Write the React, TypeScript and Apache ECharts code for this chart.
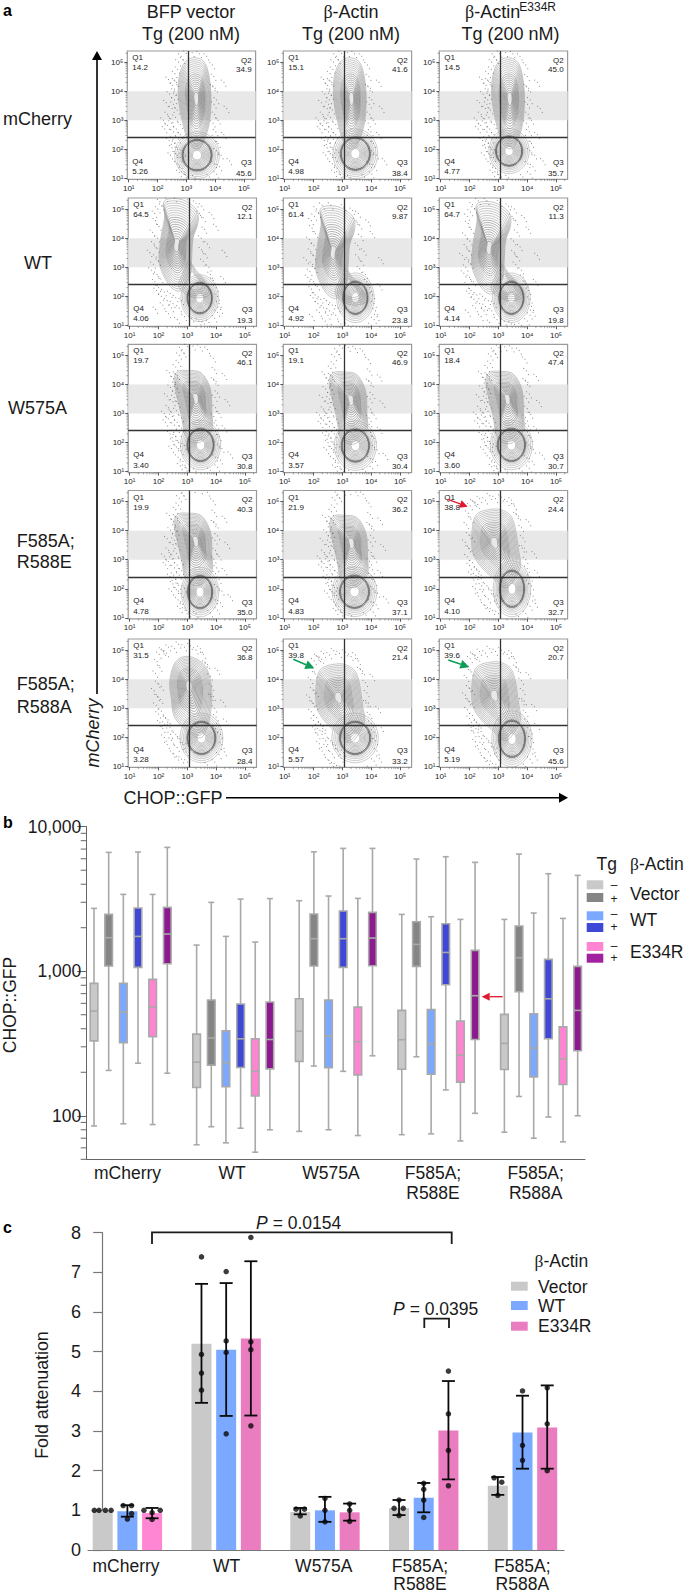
import React, { useEffect, useRef } from "react";
import * as echarts from "echarts";

const W = 684;
const H = 1593;
const FONT = '"Liberation Sans", Arial, sans-serif';
const SERIF = '"Liberation Serif", serif';

// ---------- panel a ----------
const COL_TITLES = ["BFP vector", "β-Actin", "β-Actin"];
const Q1 = [14.2, 15.1, 14.5, 64.5, 61.4, 64.7, 19.7, 19.1, 18.4, 19.9, 21.9, 38.8, 31.5, 39.8, 39.6];
const Q2 = ["34.9", "41.6", "45.0", "12.1", "9.87", "11.3", "46.1", "46.9", "47.4", "40.3", "36.2", "24.4", "36.8", "21.4", "20.7"];
const Q3 = ["45.6", "38.4", "35.7", "19.3", "23.8", "19.8", "30.8", "30.4", "30.7", "35.0", "37.1", "32.7", "28.4", "33.2", "45.6"];
const Q4 = ["5.26", "4.98", "4.77", "4.06", "4.92", "4.14", "3.40", "3.57", "3.60", "4.78", "4.83", "4.10", "3.28", "5.57", "5.19"];
const N_CELLS = ["4,453", "2,899", "2,988", "3,515", "4,272", "3,182", "5,529", "3,746", "2,842", "5,778", "3,439", "3,433", "2,619", "3,681", "3,644"];
const DECADES = [1, 2, 3, 4, 5];
const SUP: Record<number, string> = { 1: "¹", 2: "²", 3: "³", 4: "⁴", 5: "⁵" };
const LOG_FRACS = [0.301, 0.477, 0.602, 0.699, 0.778, 0.845, 0.903, 0.954];
const X_GATE = 3.07;
const Y_GATE = 2.41;
const BAND = [3, 4];

// Contour outlines, in decades of fluorescence
const UPPER: Record<string, { pts: number[][]; peak: number[] }> = {
  A: { peak: [3.35, 3.75], pts: [[3.3, 5.15], [3.65, 4.95], [3.82, 4.3], [3.85, 3.5], [3.75, 2.7], [3.45, 2.05], [3.1, 2.2], [2.85, 3.0], [2.72, 3.8], [2.75, 4.5], [2.95, 5.0]] },
  B: { peak: [2.62, 3.75], pts: [[2.21, 5.28], [2.79, 5.33], [3.31, 4.99], [3.37, 4.53], [3.2, 4.0], [3.15, 3.3], [3.1, 2.7], [2.8, 2.2], [2.4, 2.35], [2.04, 3.09], [2.07, 3.9], [2.21, 4.7]] },
  W: { peak: [3.3, 3.55], pts: [[3.03, 4.48], [3.49, 4.39], [3.8, 3.85], [3.85, 3.1], [3.84, 2.44], [3.4, 2.0], [2.95, 2.2], [2.8, 2.9], [2.66, 3.5], [2.54, 4.15], [2.68, 4.45]] },
  C: { peak: [2.85, 3.6], pts: [[2.77, 4.74], [3.24, 4.66], [3.53, 4.31], [3.7, 3.33], [3.75, 2.7], [3.3, 2.05], [2.89, 2.3], [2.31, 2.87], [2.08, 3.45], [2.19, 4.48]] },
  D: { peak: [3.05, 3.8], pts: [[3.05, 4.78], [3.6, 4.47], [3.84, 3.72], [3.78, 2.69], [3.5, 2.0], [3.03, 2.2], [2.56, 2.69], [2.45, 3.3], [2.39, 3.95], [2.6, 4.6]] },
};
const TAIL_B = { peak: [3.25, 2.5], pts: [[3.05, 3.2], [3.3, 2.9], [3.6, 2.55], [3.8, 2.1], [3.4, 1.95], [3.0, 2.05], [2.7, 2.35], [2.85, 2.8]] };
const TAIL_LEVELS = [1, 0.88, 0.76, 0.64, 0.52];
// shape, dx, dy, blob x, blob y, blob rx, blob ry
const PANEL_SHAPES: [string, number, number, number, number, number, number][] = [
  ["A", 0, 0, 3.37, 1.8, 0.5, 0.52], ["A", -0.03, 0, 3.45, 1.85, 0.5, 0.55], ["A", 0.05, 0, 3.37, 1.94, 0.45, 0.5],
  ["B", 0, 0, 3.43, 1.94, 0.42, 0.52], ["B", 0.05, -0.25, 3.45, 1.95, 0.42, 0.55], ["B", 0.05, -0.1, 3.45, 1.95, 0.42, 0.55],
  ["W", 0, 0, 3.46, 1.92, 0.45, 0.55], ["W", 0, -0.05, 3.45, 1.9, 0.47, 0.55], ["W", 0.02, -0.03, 3.45, 1.92, 0.47, 0.55],
  ["W", 0, 0.12, 3.44, 1.89, 0.42, 0.55], ["W", 0.02, 0.05, 3.42, 1.9, 0.5, 0.55], ["C", 0, 0, 3.47, 2.0, 0.42, 0.62],
  ["D", 0, 0, 3.49, 1.98, 0.48, 0.55], ["C", 0, -0.22, 3.44, 1.98, 0.52, 0.55], ["C", 0, -0.15, 3.47, 1.95, 0.45, 0.62],
];
const RING_OUTER = [1, 0.95, 0.9, 0.85, 0.8, 0.75, 0.7, 0.65];
const RING_INNER = [0.6, 0.55, 0.5, 0.45, 0.4, 0.35, 0.3, 0.25, 0.2, 0.15];
const BLOB_OUTER = [1.55, 1.42, 1.3, 1.2, 1.12];
const BLOB_RIM = [1.05, 1.0, 0.96];
const BLOB_INNER = [0.88, 0.8, 0.72, 0.64, 0.56, 0.48, 0.4, 0.32];
const DOT_COPIES = [[0, 0], [0.07, -0.13], [-0.09, 0.08]];
const DOTS_A = [[2.35, 3.2], [2.42, 3.9], [2.48, 2.9], [2.5, 3.4], [2.52, 4.2], [2.55, 2.6], [2.58, 3.7], [2.6, 4.6], [2.62, 3.1], [2.4, 2.3], [2.45, 1.8], [2.6, 2.2], [2.65, 2.7], [2.68, 1.5], [2.7, 2.0], [2.72, 5.0], [2.75, 1.2], [2.8, 2.5], [2.82, 5.2], [2.85, 1.35], [2.3, 3.6], [2.25, 2.7], [2.38, 4.4], [2.2, 3.0], [2.55, 3.55], [2.46, 3.05], [2.53, 2.35], [2.62, 1.85], [2.58, 4.0], [2.66, 4.3], [3.0, 5.3], [3.2, 5.32], [3.45, 5.28], [3.7, 5.2], [3.9, 4.9], [3.95, 4.5], [4.0, 4.1], [4.05, 3.7], [3.98, 3.2], [4.1, 3.0], [4.02, 2.6], [4.1, 2.2], [4.2, 1.8], [4.15, 1.4], [4.05, 1.15], [3.8, 1.05], [4.3, 2.5], [4.4, 3.4], [4.3, 4.3], [4.5, 1.6], [3.3, 1.02], [3.05, 1.05], [2.9, 1.9], [2.78, 1.72], [2.72, 2.35], [2.68, 3.35], [2.64, 3.85], [2.6, 4.35], [2.7, 4.75], [2.88, 5.08], [3.92, 4.15], [3.96, 3.55], [3.92, 2.9], [3.98, 2.4], [4.04, 1.95], [3.97, 1.5], [2.92, 1.15], [2.8, 2.85], [2.5, 2.05], [2.34, 2.82]];
const DOTS_B = [[1.7, 3.5], [1.75, 2.9], [1.8, 4.2], [1.82, 3.1], [1.85, 3.8], [1.88, 2.5], [1.9, 4.6], [1.92, 3.35], [1.95, 2.75], [1.96, 4.0], [1.98, 5.0], [2.0, 2.3], [2.02, 4.4], [2.05, 5.25], [2.08, 2.6], [2.1, 2.0], [2.15, 1.7], [2.2, 2.15], [2.25, 5.38], [2.3, 1.85], [2.35, 1.4], [2.4, 2.1], [2.5, 1.75], [2.55, 5.38], [2.6, 1.95], [2.65, 1.2], [2.72, 1.6], [2.8, 1.85], [2.9, 1.3], [3.0, 5.32], [3.15, 1.25], [3.3, 5.2], [3.4, 1.15], [3.5, 5.1], [3.55, 4.7], [3.6, 4.3], [3.48, 4.0], [3.5, 3.6], [3.55, 3.2], [3.7, 3.8], [3.75, 3.0], [3.8, 2.75], [3.9, 2.55], [4.0, 2.3], [4.05, 2.0], [4.1, 1.75], [4.05, 1.45], [3.95, 1.25], [3.75, 1.1], [4.25, 2.6], [4.3, 3.5], [4.0, 4.4], [3.85, 4.8], [1.9, 1.55], [2.45, 1.6], [1.95, 3.65], [2.0, 3.2], [1.93, 2.2], [2.12, 5.1], [1.87, 4.85], [3.42, 4.85], [3.62, 3.45], [4.15, 1.55], [3.6, 1.05]];
const DOTS_C = [[1.85, 3.6], [1.9, 4.2], [1.92, 3.1], [1.95, 4.6], [1.98, 3.85], [2.0, 2.8], [2.02, 4.85], [2.05, 2.5], [2.08, 3.3], [2.1, 2.9], [2.12, 5.0], [2.15, 2.3], [2.18, 4.95], [2.2, 2.0], [2.25, 2.65], [2.3, 1.75], [2.35, 5.1], [2.4, 2.35], [2.45, 1.9], [2.5, 1.45], [2.55, 5.05], [2.6, 2.1], [2.65, 1.65], [2.7, 5.2], [2.75, 1.95], [2.8, 1.25], [2.85, 1.75], [2.9, 5.1], [2.95, 1.5], [3.0, 1.15], [3.1, 5.15], [3.3, 5.0], [3.55, 4.85], [3.7, 4.5], [3.8, 4.1], [3.85, 3.75], [3.9, 3.4], [3.95, 3.0], [4.0, 2.7], [4.1, 2.4], [4.15, 2.1], [4.2, 1.75], [4.1, 1.4], [3.95, 1.15], [3.7, 1.05], [4.35, 2.55], [4.25, 3.2], [4.05, 4.3], [2.22, 2.45], [2.33, 2.6], [2.05, 4.4], [1.96, 3.4], [2.1, 3.75], [2.28, 4.9], [2.62, 1.35], [3.05, 1.7], [3.62, 4.55], [3.82, 3.4], [3.98, 2.3], [4.28, 1.5], [3.45, 5.05], [2.42, 2.1]];
const DOTS_BY_SHAPE: Record<string, number[][]> = { A: DOTS_A, W: DOTS_A, B: DOTS_B, C: DOTS_C, D: DOTS_C };

// ---------- panel b ----------
const BOX_GROUPS = ["mCherry", "WT", "W575A", "F585A;\nR588E", "F585A;\nR588A"];
const BOX_COLORS = ["#c9c9c9", "#858585", "#7aa9ff", "#3f48d6", "#ff85d2", "#8c1a8e"];
// whisker low, q1, median, q3, whisker high
const BOX_MCHERRY = [[85, 330, 530, 824, 2722], [206, 1086, 1706, 2474, 6641], [88, 320, 521, 824, 3401], [231, 1063, 1742, 2736, 6680], [87, 352, 565, 878, 3401], [197, 1127, 1808, 2766, 7194]];
const BOX_WT = [[63, 157, 235, 367, 1517], [84, 224, 345, 632, 2994], [65, 159, 233, 387, 1742], [82, 216, 341, 593, 3157], [56, 137, 203, 341, 1592], [80, 211, 337, 612, 3180]];
const BOX_W575A = [[78, 238, 385, 645, 3076], [221, 1086, 1679, 2487, 6700], [80, 215, 356, 632, 3313], [203, 1063, 1679, 2608, 7079], [73, 192, 325, 565, 3192], [260, 1091, 1697, 2553, 7079]];
const BOX_R588E = [[74, 210, 336, 536, 2472], [256, 1080, 1534, 2201, 5974], [75, 194, 312, 544, 2383], [151, 807, 1349, 2132, 6199], [67, 171, 263, 452, 2284], [104, 337, 677, 1394, 5666]];
const BOX_R588A = [[77, 209, 317, 503, 2284], [136, 721, 1240, 2054, 6466], [70, 186, 294, 508, 2527], [98, 341, 645, 1208, 4728], [66, 165, 248, 413, 2320], [100, 282, 536, 1080, 4605]];
const BOX_VALUE_TICKS = [100, 1000, 10000];
const BOX_MINOR = [50, 60, 70, 80, 90, 200, 300, 400, 500, 600, 700, 800, 900, 2000, 3000, 4000, 5000, 6000, 7000, 8000, 9000];

// ---------- panel c ----------
const BAR_GROUPS = ["mCherry", "WT", "W575A", "F585A;\nR588E", "F585A;\nR588A"];
const BAR_VECTOR = [1.0, 5.2, 0.96, 1.06, 1.62];
const BAR_WT = [0.98, 5.05, 1.0, 1.32, 2.96];
const BAR_E334R = [0.93, 5.33, 0.95, 3.01, 3.09];
const ERR_VECTOR = [null, [3.71, 6.71], [0.9, 1.06], [0.88, 1.26], [1.39, 1.84]];
const ERR_WT = [[0.84, 1.13], [3.38, 6.73], [0.71, 1.34], [0.95, 1.69], [2.05, 3.89]];
const ERR_E334R = [[0.8, 1.06], [3.39, 7.28], [0.74, 1.17], [1.78, 4.26], [2.05, 4.15]];
// [slot offset, value]
const PTS_VECTOR = [
  [[-0.34, 1], [-0.15, 1], [0.11, 1], [0.34, 1]],
  [[0, 7.39], [0, 4.93], [0, 4.46], [0, 4.03]],
  [[-0.17, 1.03], [0.17, 1.03], [0, 0.86]],
  [[0, 1.26], [-0.2, 1.05], [0.17, 1.05], [0, 0.87]],
  [[-0.15, 1.82], [0.16, 1.71], [0, 1.38]],
];
const PTS_WT = [
  [[-0.17, 1.12], [0.17, 1.12], [0.17, 0.92], [0, 0.78]],
  [[0, 7.02], [0, 5.27], [0, 4.98], [0, 2.93]],
  [[0, 1.3], [0, 1.0], [0, 0.71]],
  [[0, 1.68], [0, 1.53], [0, 1.26], [0, 0.82]],
  [[0, 4.01], [0, 2.64], [0, 2.26]],
];
const PTS_E334R = [
  [[-0.33, 1.0], [0, 0.94], [0.33, 1.0], [0, 0.77]],
  [[0, 7.88], [0, 5.25], [0, 5.05], [0, 3.13]],
  [[0, 1.16], [0, 1.0], [0, 0.72]],
  [[0, 4.51], [0, 3.43], [0, 2.51], [0, 1.62]],
  [[0, 4.09], [0, 3.18], [0, 2.0]],
];
const BAR_COLOR_VECTOR = "#c9c9c9";
const BAR_COLOR_WT = "#7aa9ff";
const BAR_COLOR_E334R = "#ea7cc0";
const BAR_COLOR_E334R_FIRST = "#ff86d3";

// ---------- layout ----------
const COL_X = [128.2, 283.3, 439.3];
const ROW_Y = [51, 198, 344.3, 490.5, 639];
const PANEL = 128.3;
const X_MIN = 0.95;
const X_MAX = 5.4;
const Y_MIN = 0.97;
const Y_MAX = 5.38;

function closedPath(points: number[][]) {
  const n = points.length;
  const f = (v: number) => v.toFixed(2);
  let d = `M${f(points[0][0])} ${f(points[0][1])}`;
  for (let i = 0; i < n; i++) {
    const p0 = points[(i - 1 + n) % n];
    const p1 = points[i];
    const p2 = points[(i + 1) % n];
    const p3 = points[(i + 2) % n];
    d += `C${f(p1[0] + (p2[0] - p0[0]) / 6)} ${f(p1[1] + (p2[1] - p0[1]) / 6)} ${f(p2[0] - (p3[0] - p1[0]) / 6)} ${f(p2[1] - (p3[1] - p1[1]) / 6)} ${f(p2[0])} ${f(p2[1])}`;
  }
  return d + "Z";
}

const CIRCLE_ANGLES = [0, 30, 60, 90, 120, 150, 180, 210, 240, 270, 300, 330];

function panelRender(i: number) {
  const [key, dx, dy, bx, by, rx, ry] = PANEL_SHAPES[i];
  const shape = UPPER[key];
  return (_params: any, api: any) => {
    const tl = api.coord([X_MIN, BAND[1]]);
    const br = api.coord([X_MAX, BAND[0]]);
    const ringOf = (s: { pts: number[][]; peak: number[] }) => (f: number) => {
      const cx = s.peak[0] + dx;
      const cy = s.peak[1] + dy;
      return closedPath(s.pts.map((p) => api.coord([cx + (p[0] + dx - cx) * f, cy + (p[1] + dy - cy) * f])));
    };
    const ring = ringOf(shape);
    const blob = (f: number) =>
      closedPath(CIRCLE_ANGLES.map((a) => {
        const t = (a * Math.PI) / 180;
        return api.coord([bx + rx * f * Math.cos(t), by + ry * f * Math.sin(t)]);
      }));
    const outerUpper = RING_OUTER.map(ring).join("") + (key === "B" ? TAIL_LEVELS.map(ringOf(TAIL_B)).join("") : "");
    const innerUpper = RING_INNER.map(ring).join("");
    const outerD = BLOB_OUTER.map(blob).join("");
    const rimD = BLOB_RIM.map(blob).join("");
    const innerD = BLOB_INNER.map(blob).join("");
    let ticks = "";
    DECADES.forEach((dec) => {
      LOG_FRACS.forEach((fr) => {
        const v = dec + fr;
        if (v < X_MAX) {
          const a = api.coord([v, Y_MIN]);
          ticks += `M${a[0].toFixed(1)} ${a[1].toFixed(1)}L${a[0].toFixed(1)} ${(a[1] + 1.8).toFixed(1)}`;
        }
        if (v < Y_MAX) {
          const b = api.coord([X_MIN, v]);
          ticks += `M${b[0].toFixed(1)} ${b[1].toFixed(1)}L${(b[0] - 1.8).toFixed(1)} ${b[1].toFixed(1)}`;
        }
      });
    });
    const p = (d: string, stroke: string, lineWidth: number) => ({
      type: "path",
      shape: { pathData: d },
      style: { fill: "none", stroke, lineWidth },
    });
    return {
      type: "group",
      children: [
        { type: "rect", shape: { x: tl[0], y: tl[1], width: br[0] - tl[0], height: br[1] - tl[1] }, style: { fill: "#e8e8e8" } },
        p(outerUpper, "#8f8f8f", 0.5),
        p(innerUpper, "#6e6e6e", 0.55),
        p(outerD, "#9a9a9a", 0.5),
        p(rimD, "#4a4a4a", 0.7),
        p(innerD, "#808080", 0.5),
        p(ticks, "#555555", 0.5),
      ],
    };
  };
}

function txt(text: string, x: number, y: number, size: number, opts: any = {}) {
  const { align = "left", valign = "middle", fill = "#1a1a1a", rotation, ...rest } = opts;
  return {
    type: "text",
    x,
    y,
    rotation,
    silent: true,
    style: {
      text,
      fill,
      fontSize: size,
      fontFamily: FONT,
      align,
      verticalAlign: valign,
      textAlign: align,
      textVerticalAlign: valign,
      ...rest,
    },
  };
}

function arrow(x1: number, y1: number, x2: number, y2: number, color: string, w: number, len: number, half: number) {
  const a = Math.atan2(y2 - y1, x2 - x1);
  const bx = x2 - len * Math.cos(a);
  const by = y2 - len * Math.sin(a);
  const nx = -Math.sin(a) * half;
  const ny = Math.cos(a) * half;
  return [
    { type: "line", silent: true, shape: { x1, y1, x2: bx, y2: by }, style: { stroke: color, lineWidth: w } },
    { type: "polygon", silent: true, shape: { points: [[x2, y2], [bx + nx, by + ny], [bx - nx, by - ny]] }, style: { fill: color } },
  ];
}

function swatch(x: number, y: number, w: number, h: number, fill: string) {
  return { type: "rect", silent: true, shape: { x, y, width: w, height: h }, style: { fill } };
}

function bracket(points: number[][]) {
  return { type: "polyline", silent: true, shape: { points }, style: { stroke: "#1a1a1a", lineWidth: 1.8, fill: "none" } };
}

function buildOption() {
  const grid: any[] = [];
  const xAxis: any[] = [];
  const yAxis: any[] = [];
  const series: any[] = [];
  const graphics: any[] = [];

  // panel a grids
  for (let i = 0; i < 15; i++) {
    const row = Math.floor(i / 3);
    const col = i % 3;
    const left = COL_X[col] - (i === 0 ? 0.9 : 0);
    const top = ROW_Y[row];
    grid.push({ left, top, width: PANEL, height: PANEL, show: true, borderColor: "#9a9a9a", borderWidth: 1.2, backgroundColor: "transparent" });
    const axisBase = {
      gridIndex: i,
      type: "value",
      splitLine: { show: false },
      axisLine: { show: false },
      axisTick: { show: true, length: 3, lineStyle: { color: "#333", width: 0.8 }, customValues: DECADES },
    };
    const lbl = (v: number) => "10" + SUP[v];
    xAxis.push({ ...axisBase, min: X_MIN, max: X_MAX, axisLabel: { show: true, customValues: DECADES, formatter: lbl, fontSize: 8, color: "#222", margin: 5, fontFamily: FONT } });
    yAxis.push({ ...axisBase, min: Y_MIN, max: Y_MAX, axisLabel: { show: true, customValues: DECADES, formatter: lbl, fontSize: 8, color: "#222", margin: 4, fontFamily: FONT } });
    series.push({
      type: "custom",
      coordinateSystem: "cartesian2d",
      xAxisIndex: i,
      yAxisIndex: i,
      silent: true,
      z: 1,
      data: [[3, 3]],
      renderItem: panelRender(i),
    });
    const [key, dx, dy] = PANEL_SHAPES[i];
    const dots: number[][] = [];
    DOT_COPIES.forEach((c) => DOTS_BY_SHAPE[key].forEach((d) => dots.push([d[0] + dx + c[0], d[1] + dy + c[1]])));
    series.push({
      type: "scatter",
      xAxisIndex: i,
      yAxisIndex: i,
      silent: true,
      z: 2,
      symbolSize: 1,
      itemStyle: { color: "#5c5c5c" },
      data: dots,
      markLine: {
        silent: true,
        symbol: "none",
        label: { show: false },
        lineStyle: { color: "#333", width: 1.3, type: "solid" },
        data: [{ xAxis: X_GATE }, { yAxis: Y_GATE }],
      },
    });

    const R = left + PANEL;
    const B = top + PANEL;
    graphics.push(txt("Q1", left + 5, top + 6.5, 8));
    graphics.push(txt(Q1[i].toFixed(1), left + 5, top + 16.5, 8));
    graphics.push(txt("Q2", R - 4, top + 9, 8, { align: "right" }));
    graphics.push(txt(Q2[i], R - 4, top + 18.5, 8, { align: "right" }));
    graphics.push(txt("Q4", left + 5, B - 18, 8));
    graphics.push(txt(Q4[i], left + 5, B - 7.5, 8));
    graphics.push(txt("Q3", R - 4, B - 16.5, 8, { align: "right" }));
    graphics.push(txt(Q3[i], R - 4, B - 6, 8, { align: "right" }));
    graphics.push(txt(`{i|n} = ${N_CELLS[i]}`, R - 2, top + 49.5, 8, {
      align: "right",
      rich: { i: { fontStyle: "italic", fontSize: 8, fontFamily: FONT, fill: "#1a1a1a" } },
    }));
  }

  // panel b
  const BI = 15;
  grid.push({ left: 86.7, top: 826.7, width: 498.3, height: 332.6 });
  const slotNames: string[] = [];
  const boxData: number[][] = [];
  [BOX_MCHERRY, BOX_WT, BOX_W575A, BOX_R588E, BOX_R588A].forEach((g, gi) => {
    g.forEach((b, bi) => {
      slotNames.push(`${BOX_GROUPS[gi]} ${bi}`);
      boxData.push([slotNames.length - 1, ...b]);
    });
    if (gi < 4) slotNames.push("");
  });
  xAxis.push({
    gridIndex: BI,
    type: "category",
    data: slotNames,
    boundaryGap: true,
    axisLine: { show: true, onZero: false, lineStyle: { color: "#666", width: 1 } },
    axisTick: { show: false },
    axisLabel: { show: false },
    splitLine: { show: false },
  });
  yAxis.push({
    gridIndex: BI,
    type: "log",
    logBase: 10,
    min: 50,
    max: 10000,
    splitLine: { show: false },
    axisLine: { show: true, lineStyle: { color: "#666", width: 1 } },
    axisTick: { show: true, length: 9.5, lineStyle: { color: "#666", width: 1 }, customValues: BOX_VALUE_TICKS },
    axisLabel: { show: true, customValues: BOX_VALUE_TICKS, margin: 5.5, fontSize: 17.5, color: "#1a1a1a", fontFamily: FONT, formatter: (v: number) => Math.round(v).toLocaleString("en-US") },
  });
  series.push({
    type: "custom",
    coordinateSystem: "cartesian2d",
    xAxisIndex: BI,
    yAxisIndex: BI,
    silent: true,
    data: BOX_MINOR.map((v) => [0, v]),
    encode: { x: 0, y: 1 },
    renderItem: (_p: any, api: any) => {
      const c = api.coord([0, api.value(1)]);
      const x0 = 86.7;
      return { type: "line", shape: { x1: x0, y1: c[1], x2: x0 - 6, y2: c[1] }, style: { stroke: "#666", lineWidth: 1 } };
    },
  });
  series.push({
    type: "custom",
    coordinateSystem: "cartesian2d",
    xAxisIndex: BI,
    yAxisIndex: BI,
    silent: true,
    data: boxData,
    encode: { x: 0, y: [1, 2, 3, 4, 5] },
    renderItem: (p: any, api: any) => {
      const s = api.value(0);
      const low = api.coord([s, api.value(1)]);
      const q1 = api.coord([s, api.value(2)]);
      const med = api.coord([s, api.value(3)]);
      const q3 = api.coord([s, api.value(4)]);
      const high = api.coord([s, api.value(5)]);
      const x = low[0];
      const line = { stroke: "#a9a9a9", lineWidth: 1.6 };
      const mk = (x1: number, y1: number, x2: number, y2: number) => ({ type: "line", shape: { x1, y1, x2, y2 }, style: line });
      return {
        type: "group",
        children: [
          mk(x, low[1], x, q1[1]),
          mk(x, q3[1], x, high[1]),
          mk(x - 3, low[1], x + 3, low[1]),
          mk(x - 3, high[1], x + 3, high[1]),
          { type: "rect", shape: { x: x - 3.8, y: q3[1], width: 7.6, height: q1[1] - q3[1] }, style: { fill: BOX_COLORS[p.dataIndex % 6], ...line } },
          mk(x - 3.8, med[1], x + 3.8, med[1]),
        ],
      };
    },
  });

  // panel c
  const CI = 16;
  const SLOT_MIN = -0.595;
  const SLOT_MAX = 18.68;
  grid.push({ left: 88, top: 1232.7, width: 476, height: 317.3 });
  xAxis.push({
    gridIndex: CI,
    type: "value",
    min: SLOT_MIN,
    max: SLOT_MAX,
    axisLine: { show: true, lineStyle: { color: "#777", width: 1.2 } },
    axisTick: { show: false },
    axisLabel: { show: false },
    splitLine: { show: false },
  });
  yAxis.push({
    gridIndex: CI,
    type: "value",
    min: 0,
    max: 8,
    interval: 1,
    axisLine: { show: true, lineStyle: { color: "#777", width: 1.2 } },
    axisTick: { show: true, length: 9.5, lineStyle: { color: "#777", width: 1.2 } },
    axisLabel: { show: true, margin: 7, fontSize: 18, color: "#1a1a1a", fontFamily: FONT },
    splitLine: { show: false },
  });
  const barData: any[] = [];
  const errData: number[][] = [];
  const ptData: number[][] = [];
  BAR_GROUPS.forEach((_g, g) => {
    const base = g * 4;
    barData.push({ value: [base, BAR_VECTOR[g]], itemStyle: { color: BAR_COLOR_VECTOR } });
    barData.push({ value: [base + 1, BAR_WT[g]], itemStyle: { color: BAR_COLOR_WT } });
    barData.push({ value: [base + 2, BAR_E334R[g]], itemStyle: { color: g === 0 ? BAR_COLOR_E334R_FIRST : BAR_COLOR_E334R } });
    [ERR_VECTOR[g], ERR_WT[g], ERR_E334R[g]].forEach((e, k) => {
      if (e) errData.push([base + k, e[0], e[1]]);
    });
    [PTS_VECTOR[g], PTS_WT[g], PTS_E334R[g]].forEach((list, k) => {
      list.forEach((pt) => ptData.push([base + k + pt[0], pt[1]]));
    });
  });
  series.push({ type: "bar", xAxisIndex: CI, yAxisIndex: CI, barWidth: 20, silent: true, data: barData });
  series.push({
    type: "custom",
    coordinateSystem: "cartesian2d",
    xAxisIndex: CI,
    yAxisIndex: CI,
    silent: true,
    z: 5,
    data: errData,
    encode: { x: 0, y: [1, 2] },
    renderItem: (_p: any, api: any) => {
      const lo = api.coord([api.value(0), api.value(1)]);
      const hi = api.coord([api.value(0), api.value(2)]);
      const st = { stroke: "#0a0a0a", lineWidth: 1.8 };
      return {
        type: "group",
        children: [
          { type: "line", shape: { x1: lo[0], y1: lo[1], x2: hi[0], y2: hi[1] }, style: st },
          { type: "line", shape: { x1: lo[0] - 6.5, y1: lo[1], x2: lo[0] + 6.5, y2: lo[1] }, style: st },
          { type: "line", shape: { x1: hi[0] - 6.5, y1: hi[1], x2: hi[0] + 6.5, y2: hi[1] }, style: st },
        ],
      };
    },
  });
  series.push({ type: "scatter", xAxisIndex: CI, yAxisIndex: CI, silent: true, z: 6, symbolSize: 5.5, itemStyle: { color: "#0a0a0a" }, data: ptData });

  // titles
  const TITLE = 18;
  const serifRich = (size: number) => ({
    b: { fontFamily: SERIF, fontSize: size, fill: "#1a1a1a" },
    a: { fontFamily: FONT, fontSize: size, fill: "#1a1a1a" },
  });
  graphics.push(txt(COL_TITLES[0], 191, 12, TITLE, { align: "center" }));
  graphics.push(txt("Tg (200 nM)", 191, 34, TITLE, { align: "center" }));
  graphics.push(txt("{b|β}{a|-Actin}", 351, 12, TITLE, { align: "center", rich: serifRich(TITLE) }));
  graphics.push(txt("Tg (200 nM)", 351, 34, TITLE, { align: "center" }));
  graphics.push(txt("{b|β}{a|-Actin}", 465, 12, TITLE, { rich: serifRich(TITLE) }));
  graphics.push(txt("E334R", 519.3, 6.5, 12));
  graphics.push(txt("Tg (200 nM)", 510.5, 34, TITLE, { align: "center" }));

  // row labels
  graphics.push(txt("mCherry", 3, 119, TITLE));
  graphics.push(txt("WT", 38, 263, TITLE, { align: "center" }));
  graphics.push(txt("W575A", 37.5, 407.7, TITLE, { align: "center" }));
  graphics.push(txt("F585A;", 16.7, 540.7, TITLE));
  graphics.push(txt("R588E", 16.7, 561.7, TITLE));
  graphics.push(txt("F585A;", 16.7, 684, TITLE));
  graphics.push(txt("R588A", 16.7, 706.7, TITLE));

  // panel letters
  graphics.push(txt("a", 3, 10, 16, { fontWeight: "bold", fill: "#000" }));
  graphics.push(txt("b", 3, 822, 16, { fontWeight: "bold", fill: "#000" }));
  graphics.push(txt("c", 3, 1227, 16, { fontWeight: "bold", fill: "#000" }));

  // panel a axes
  graphics.push(...arrow(97, 694, 97, 51, "#000", 1.6, 9, 5));
  graphics.push(...arrow(226, 797.7, 568, 797.7, "#000", 1.6, 9, 5));
  graphics.push(txt("mCherry", 93, 733, TITLE, { align: "center", fontStyle: "italic", rotation: Math.PI / 2 }));
  graphics.push(txt("CHOP::GFP", 173, 798, TITLE, { align: "center" }));
  graphics.push(...arrow(447.7, 499.3, 467.7, 506.7, "#e01a2e", 1.4, 8, 4));
  graphics.push(...arrow(448.3, 660, 469.3, 667.3, "#0a9e58", 1.6, 9, 4.5));
  graphics.push(...arrow(293.3, 659.3, 314.3, 668.3, "#0a9e58", 1.6, 9, 4.5));

  // panel b labels
  graphics.push(txt("CHOP::GFP", 10, 1005, 17.5, { align: "center", rotation: Math.PI / 2 }));
  [[127.5, 1173.3], [232, 1173.3], [331, 1173.3]].forEach((p, k) => graphics.push(txt(BOX_GROUPS[k], p[0], p[1], 17.5, { align: "center" })));
  BOX_GROUPS.slice(3).forEach((name, k) => {
    const [l1, l2] = name.split("\n");
    const cx = [433, 535.7][k];
    graphics.push(txt(l1, cx, 1173.3, 17.5, { align: "center" }));
    graphics.push(txt(l2, cx, 1192.7, 17.5, { align: "center" }));
  });
  graphics.push(...arrow(502.7, 996.7, 481.7, 996.7, "#e01a2e", 1.3, 8, 4));

  // panel b legend
  graphics.push(txt("Tg", 606.7, 864, 17.5, { align: "center" }));
  graphics.push(txt("{b|β}{a|-Actin}", 630, 864, 17.5, { rich: serifRich(17.5) }));
  const LEG = [[880.3, BOX_COLORS[0]], [893, BOX_COLORS[1]], [911.3, BOX_COLORS[2]], [923, BOX_COLORS[3]], [942, BOX_COLORS[4]], [953.7, "#a020a0"]] as [number, string][];
  LEG.forEach(([y, c]) => graphics.push(swatch(586.7, y, 16.6, 9, c)));
  [885, 914, 945.7].forEach((y) => graphics.push(txt("–", 614, y, 12, { align: "center" })));
  [898.7, 926.7, 958.3].forEach((y) => graphics.push(txt("+", 614, y, 12, { align: "center" })));
  graphics.push(txt("Vector", 630, 894, 17.5));
  graphics.push(txt("WT", 630, 920, 17.5));
  graphics.push(txt("E334R", 630, 952, 17.5));

  // panel c labels
  graphics.push(txt("Fold attenuation", 41.7, 1395, 17.8, { align: "center", rotation: Math.PI / 2 }));
  [[126, 1566], [226.7, 1566], [323.8, 1566]].forEach((p, k) => graphics.push(txt(BAR_GROUPS[k], p[0], p[1], 17.5, { align: "center" })));
  BAR_GROUPS.slice(3).forEach((name, k) => {
    const [l1, l2] = name.split("\n");
    const cx = [420, 522.3][k];
    graphics.push(txt(l1, cx, 1566, 17.5, { align: "center" }));
    graphics.push(txt(l2, cx, 1583.5, 17.5, { align: "center" }));
  });
  const italicP = { i: { fontStyle: "italic", fontSize: 17.5, fontFamily: FONT, fill: "#1a1a1a" }, a: { fontSize: 17.5, fontFamily: FONT, fill: "#1a1a1a" } };
  graphics.push(txt("{i|P}{a| = 0.0154}", 298.7, 1222.7, 17.5, { align: "center", rich: italicP }));
  graphics.push(bracket([[152, 1244], [152, 1232.3], [451.7, 1232.3], [451.7, 1244]]));
  graphics.push(txt("{i|P}{a| = 0.0395}", 435.7, 1309, 17.5, { align: "center", rich: italicP }));
  graphics.push(bracket([[424.3, 1328], [424.3, 1318.7], [449, 1318.7], [449, 1328]]));
  graphics.push(txt("{b|β}{a|-Actin}", 534.5, 1261, 17.5, { rich: serifRich(17.5) }));
  const LEGC = [[1281.7, BAR_COLOR_VECTOR, "Vector", 1286.7], [1301, BAR_COLOR_WT, "WT", 1305.7], [1321.7, BAR_COLOR_E334R, "E334R", 1325.7]] as [number, string, string, number][];
  LEGC.forEach(([y, c, t, ty]) => {
    graphics.push(swatch(511, y, 16.7, 9, c));
    graphics.push(txt(t, 538, ty, 17.5));
  });

  return {
    animation: false,
    backgroundColor: "#fff",
    grid,
    xAxis,
    yAxis,
    series,
    graphic: { elements: graphics },
  };
}

export default function App() {
  const ref = useRef<HTMLDivElement>(null);
  useEffect(() => {
    document.body.style.margin = "0";
    const chart = echarts.init(ref.current!, undefined, { renderer: "svg", width: W, height: H });
    chart.setOption(buildOption() as any);
    return () => chart.dispose();
  }, []);
  return <div ref={ref} style={{ width: W, height: H }} />;
}
